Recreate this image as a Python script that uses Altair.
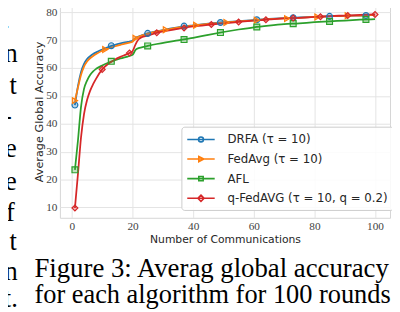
import altair as alt
import pandas as pd

series = ["DRFA (τ = 10)", "FedAvg (τ = 10)", "AFL", "q-FedAVG (τ = 10, q = 0.2)"]
colors = ["#1f77b4", "#ff7f0e", "#2ca02c", "#d62728"]
shapes = ["circle", "triangle-right", "square", "diamond"]

rounds = [1, 2, 3, 4, 5, 6, 7, 8, 10, 12, 14, 16, 18, 19, 20, 21, 22, 23, 25, 28,
          31, 35, 40, 45, 50, 55, 60, 65, 70, 75, 80, 85, 90, 95, 100]
drfa = [46.7, 53.5, 58.5, 61.5, 63.2, 64.2, 65.0, 65.6, 66.6, 67.5, 68.2, 68.8, 69.3, 69.5, 69.8,
        70.8, 71.3, 71.7, 72.4, 73.2, 73.8, 74.6, 75.3, 75.9, 76.4, 76.8, 77.2, 77.6, 77.9, 78.1,
        78.3, 78.5, 78.7, 78.8, 79.0]
fedavg = [48.3, 53.0, 57.5, 60.5, 62.3, 63.5, 64.3, 65.0, 66.2, 67.0, 67.7, 68.3, 68.8, 69.1, 69.4,
          70.7, 71.2, 71.6, 72.3, 73.1, 73.7, 74.5, 75.2, 75.8, 76.3, 76.7, 77.1, 77.5, 77.8, 78.0,
          78.3, 78.5, 78.7, 78.8, 79.0]
afl = [23.5, 34.0, 46.0, 52.5, 55.5, 57.5, 58.8, 59.7, 60.9, 61.9, 62.7, 63.4, 64.0, 64.3, 64.7,
       66.5, 67.1, 67.4, 67.9, 68.6, 69.2, 69.9, 70.8, 71.9, 72.9, 73.8, 74.6, 75.2, 75.7, 76.0,
       76.4, 76.7, 77.0, 77.3, 77.5]
qfedavg = [9.8, 22.0, 35.0, 43.5, 48.5, 51.8, 54.2, 56.2, 59.5, 61.5, 62.9, 64.0, 64.9, 65.4, 66.0,
           68.5, 70.3, 71.0, 71.6, 72.6, 73.3, 74.0, 74.9, 75.5, 76.0, 76.5, 77.0, 77.4, 77.8, 78.0,
           78.3, 78.6, 78.8, 79.0, 79.2]

drfa_mx = [1, 13, 25, 37, 49, 61, 73, 85, 97]
drfa_my = [46.7, 68.0, 72.4, 75.0, 76.3, 77.3, 78.0, 78.5, 78.8]
fedavg_mx = [1, 11, 21, 31, 41, 51, 61, 71, 81, 91]
fedavg_my = [48.3, 66.6, 70.7, 73.7, 75.3, 76.3, 77.1, 77.7, 78.3, 78.7]
afl_mx = [1, 13, 25, 37, 49, 61, 73, 85, 97]
afl_my = [23.5, 62.4, 67.9, 70.2, 72.7, 74.7, 75.9, 76.7, 77.4]
qfedavg_mx = [1, 10, 19, 28, 37, 46, 55, 64, 73, 82, 91, 100]
qfedavg_my = [9.8, 59.5, 65.4, 72.6, 74.3, 75.6, 76.5, 77.3, 77.9, 78.4, 78.8, 79.2]

x_ticks = [0, 20, 40, 60, 80, 100]
y_ticks = [10, 20, 30, 40, 50, 60, 70, 80]

caption = ["Figure 3: Averag global accuracy", "for each algorithm for 100 rounds"]
fragments = ["-", "-", "n", "t", "l-", "e", "e", "f", "t", "n", "t."]

# ---- tables ----
line_rows = []
for s, ys in zip(series, [drfa, fedavg, afl, qfedavg]):
    for r, v in zip(rounds, ys):
        line_rows.append({"series": s, "round": r, "acc": v})
lines_df = pd.DataFrame(line_rows)

mk_rows = []
for s, xs, ys in zip(series, [drfa_mx, fedavg_mx, afl_mx, qfedavg_mx],
                     [drfa_my, fedavg_my, afl_my, qfedavg_my]):
    for r, v in zip(xs, ys):
        mk_rows.append({"series": s, "round": r, "acc": v})
marks_df = pd.DataFrame(mk_rows)

W, H = 337, 217

xscale = alt.Scale(domain=[-3.95, 104.95], nice=False, zero=False)
yscale = alt.Scale(domain=[6.3, 82.5], nice=False, zero=False)
cscale = alt.Scale(domain=series, range=colors)

x_enc = alt.X("round:Q", scale=xscale,
              axis=alt.Axis(values=x_ticks, title="Number of Communications",
                            titleFontSize=11, titlePadding=2))
y_enc = alt.Y("acc:Q", scale=yscale,
              axis=alt.Axis(values=y_ticks, title="Average Global Accuracy",
                            titleFontSize=11.5, titlePadding=1))

lines = alt.Chart(lines_df).mark_line(strokeWidth=1.8, interpolate="monotone").encode(
    x=x_enc, y=y_enc,
    stroke=alt.Stroke("series:N", scale=cscale, legend=None),
    detail="series:N",
)

points = alt.Chart(marks_df).mark_point(filled=True, size=36, strokeWidth=1.2, fillOpacity=0.3, opacity=1).encode(
    x=x_enc, y=y_enc,
    stroke=alt.Stroke("series:N", scale=cscale, legend=None),
    fill=alt.Fill("series:N", scale=cscale, legend=None),
    shape=alt.Shape("series:N", scale=alt.Scale(domain=series, range=shapes), legend=None),
)

ln = "M-2,0L2,0"
legend_paths = [
    ln + "M0.36,0A0.36,0.36,0,1,1,-0.36,0A0.36,0.36,0,1,1,0.36,0Z",
    ln + "M-0.32,-0.38L0.42,0L-0.32,0.38Z",
    ln + "M-0.32,-0.32H0.32V0.32H-0.32Z",
    ln + "M0,-0.45L0.45,0L0,0.45L-0.45,0Z",
]
leg = alt.Legend(orient="none", legendX=124, legendY=124, title=None, padding=5,
                 cornerRadius=3, strokeColor="#cccccc", fillColor="rgba(255,255,255,0.85)",
                 symbolSize=196, symbolStrokeWidth=1.6, symbolOffset=7, labelOffset=19,
                 labelFont="DejaVu Sans", labelFontSize=12, labelColor="#262626",
                 labelLimit=400, rowPadding=6, symbolOpacity=1)
legend_layer = alt.Chart(lines_df).mark_point(filled=False, strokeWidth=1.6).encode(
    color=alt.Color("series:N", scale=cscale, legend=leg),
    shape=alt.Shape("series:N", scale=alt.Scale(domain=series, range=legend_paths), legend=leg),
).transform_filter("false")

one = alt.Data(values=[{}])
texts = []
cap_y = [277, 304]
cap_size = [27.3, 26.9]
for t, yy, fs in zip(caption, cap_y, cap_size):
    texts.append(alt.Chart(one).mark_text(text=t, align="left", baseline="alphabetic",
                                          font="Liberation Serif", fontSize=fs, color="#000000")
                 .encode(x=alt.value(-26), y=alt.value(yy)))

frag_right = [9, 9, 18, 17, 12, 17, 17, 15, 17, 18, 18]
frag_base = [10, 30, 60, 93, 123, 157, 191, 222, 252, 283, 310]
for t, rx, by in zip(fragments, frag_right, frag_base):
    texts.append(alt.Chart(one).mark_text(text=t, align="right", baseline="alphabetic",
                                          font="Liberation Serif", fontSize=27, color="#000000")
                 .encode(x=alt.value(rx - 61), y=alt.value(by - 2)))

chart = alt.layer(lines, points, legend_layer, *texts).resolve_scale(
    shape="independent", color="independent"
).properties(
    width=W, height=H,
    padding={"left": 53, "top": -6, "right": 2, "bottom": 93},
    autosize=alt.AutoSizeParams(type="none"),
).configure_view(
    stroke="#d5d5d5", strokeWidth=1
).configure_axis(
    grid=True, gridColor="#e3e3e3", gridWidth=1, domain=False, ticks=False,
    labelOverlap=False,
    labelFont="Liberation Serif", labelFontSize=11.5, labelColor="#444444", labelPadding=3,
    titleFont="DejaVu Sans", titleFontWeight="normal", titleColor="#262626",
)

chart.save("out.html", embed_options={"renderer": "svg", "actions": False})
